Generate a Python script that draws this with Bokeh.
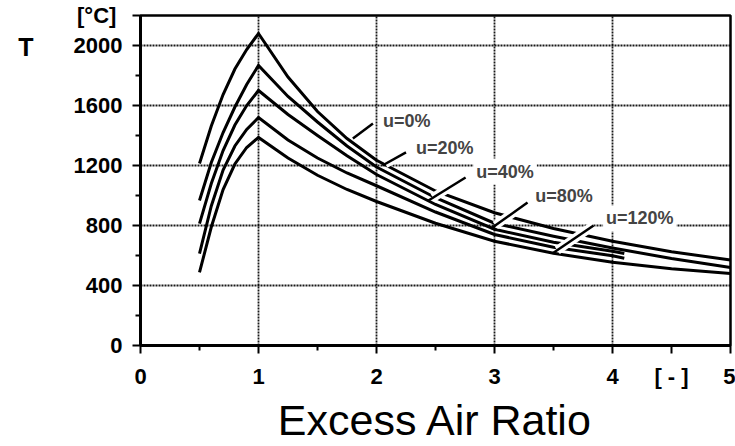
from bokeh.plotting import figure
from bokeh.models import Label, FixedTicker, Range1d, LinearAxis
from bokeh.embed import file_html
from bokeh.resources import INLINE

# ---- data ----
x_rise = [0.5, 0.6, 0.7, 0.8, 0.9, 1.0]
x_fall = [1.25, 1.5, 1.75, 2.0, 2.5, 3.0, 3.5, 4.0, 4.5, 5.0]
x_fall_short = [1.25, 1.5, 1.75, 2.0, 2.5, 3.0, 3.5, 4.0, 4.1]

u0_rise = [1213, 1463, 1673, 1843, 1973, 2080]
u20_rise = [967, 1220, 1420, 1590, 1740, 1867]
u40_rise = [813, 1080, 1300, 1470, 1600, 1700]
u80_rise = [613, 930, 1170, 1330, 1440, 1520]
u120_rise = [487, 790, 1040, 1210, 1320, 1387]

u0_fall = [1790, 1560, 1380, 1235, 1030, 885, 780, 695, 625, 570]
u20_fall = [1660, 1490, 1330, 1190, 985, 815, 728, 650, 580, 520]
u40_fall = [1540, 1400, 1265, 1140, 940, 775, 688, 628, 613]
u80_fall = [1370, 1250, 1150, 1065, 890, 740, 655, 598, 582]
u120_fall = [1250, 1135, 1040, 960, 815, 695, 615, 555, 512, 480]

label_text = ["u=0%", "u=20%", "u=40%", "u=80%", "u=120%"]
label_x = [2.03, 2.31, 2.82, 3.32, 3.92]
label_y = [1500, 1320, 1160, 1000, 847]
lead_x0 = [1.80, 2.05, 2.44, 2.97, 3.49]
lead_y0 = [1380, 1200, 967, 780, 613]
lead_x1 = [1.97, 2.25, 2.755, 3.28, 3.84]
lead_y1 = [1480, 1287, 1120, 953, 800]

x_ticks = [0, 1, 2, 3, 4, 4.5, 5]
x_tick_labels = {4.5: "[ - ]"}
x_minor = [0.5, 1.5, 2.5, 3.5]
x_grid = [1, 2, 3, 4]
y_ticks = [0, 400, 800, 1200, 1600, 2000, 2200]
y_tick_labels = {2200: "[°C]\u00a0"}
y_minor = [200, 600, 1000, 1400, 1800]
y_grid = [400, 800, 1200, 1600, 2000]
y_name_pos = 1993
y_name = "T"
x_name = "Excess Air Ratio"

FONT = "Liberation Sans"
W, H = 735, 446

p = figure(width=W, height=H, x_range=Range1d(0, 5), y_range=Range1d(0, 2200),
           output_backend="svg", toolbar_location=None,
           min_border_left=140, min_border_right=5, min_border_top=15, min_border_bottom=101)
p.background_fill_color = "white"
p.border_fill_color = "white"
p.outline_line_color = "black"
p.outline_line_width = 2.5
p.outline_line_alpha = 1.0

for ax, tk, mn, ov in ((p.xaxis[0], x_ticks, x_minor, x_tick_labels),
                       (p.yaxis[0], y_ticks, y_minor, y_tick_labels)):
    ax.ticker = FixedTicker(ticks=tk, minor_ticks=mn)
    ax.major_label_overrides = ov
    ax.axis_line_width = 3
    ax.axis_line_color = "black"
    ax.major_tick_line_width = 2
    ax.major_tick_line_color = "black"
    ax.major_tick_out = 8
    ax.major_tick_in = 0
    ax.minor_tick_line_width = 2
    ax.minor_tick_line_color = "black"
    ax.minor_tick_out = 5
    ax.minor_tick_in = 0
    ax.major_label_text_font = FONT
    ax.major_label_text_font_size = "22px"
    ax.major_label_text_font_style = "bold"
    ax.major_label_text_color = "black"
p.xaxis[0].major_label_standoff = 10
p.yaxis[0].major_label_standoff = 10

p.xaxis[0].axis_label = x_name
p.xaxis[0].axis_label_text_font = FONT
p.xaxis[0].axis_label_text_font_size = "43px"
p.xaxis[0].axis_label_text_font_style = "normal"
p.xaxis[0].axis_label_text_color = "black"
p.xaxis[0].axis_label_standoff = 4

# outer left axis that only carries the "T" quantity name
name_axis = LinearAxis(ticker=FixedTicker(ticks=[y_name_pos], minor_ticks=[]),
                       major_label_overrides={y_name_pos: y_name})
name_axis.axis_line_color = None
name_axis.major_tick_line_color = None
name_axis.minor_tick_line_color = None
name_axis.major_tick_out = 0
name_axis.major_tick_in = 0
name_axis.major_label_standoff = 37
name_axis.major_label_text_font = FONT
name_axis.major_label_text_font_size = "25px"
name_axis.major_label_text_font_style = "bold"
name_axis.major_label_text_color = "black"
p.add_layout(name_axis, "left")

p.xgrid[0].ticker = FixedTicker(ticks=x_grid)
p.ygrid[0].ticker = FixedTicker(ticks=y_grid)
for g in (p.xgrid[0], p.ygrid[0]):
    g.grid_line_color = "black"
    g.grid_line_width = 1.8
    g.grid_line_dash = "2 1"
    g.grid_line_alpha = 0.9

curves = [
    (x_rise + x_fall, u0_rise + u0_fall),
    (x_rise + x_fall, u20_rise + u20_fall),
    (x_rise + x_fall_short, u40_rise + u40_fall),
    (x_rise + x_fall_short, u80_rise + u80_fall),
    (x_rise + x_fall, u120_rise + u120_fall),
]
for xs, ys in curves:
    p.line(xs, ys, line_color="black", line_width=3, line_join="miter")

# leader lines: a white casing (starting a little past the curve) cuts the curves they cross
t0 = 0.12
halo_x0 = [a + t0 * (b - a) for a, b in zip(lead_x0, lead_x1)]
halo_y0 = [a + t0 * (b - a) for a, b in zip(lead_y0, lead_y1)]
p.segment(x0=halo_x0, y0=halo_y0, x1=lead_x1, y1=lead_y1, line_color="white", line_width=9)
p.segment(x0=lead_x0, y0=lead_y0, x1=lead_x1, y1=lead_y1, line_color="black", line_width=2.5)

for t, lx, ly in zip(label_text, label_x, label_y):
    p.add_layout(Label(x=lx, y=ly, text=t, text_font=FONT, text_font_size="18px",
                       text_font_style="bold", text_baseline="middle", text_align="left",
                       background_fill_color="white", background_fill_alpha=1.0, padding=3))

open("out.html", "w").write(file_html(p, INLINE))
